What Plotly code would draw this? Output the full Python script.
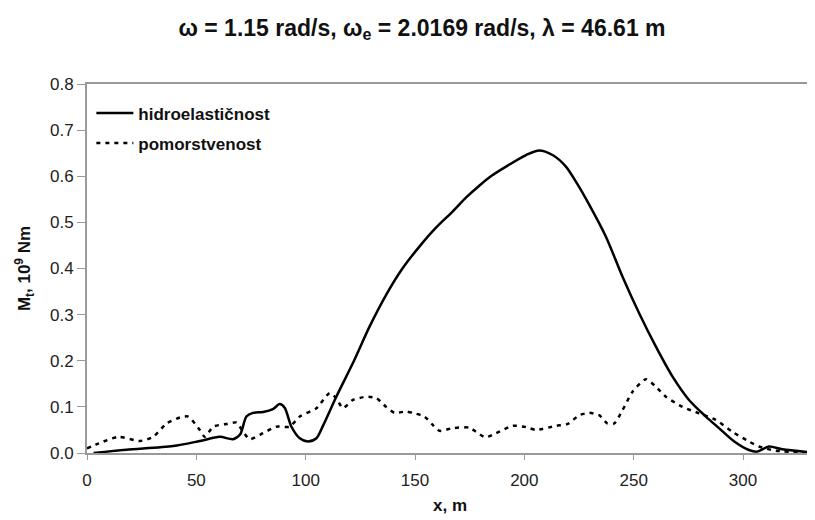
import plotly.graph_objects as go

# hidroelastičnost (solid)
x_hidro = [3, 18, 39.4, 51.6, 60.7, 66.8, 70, 72.9, 75.9, 80.5, 85, 88.1, 90.4, 93.5, 97.3, 101,
           104.9, 108, 114, 121.6, 129.2, 136.8, 144.4, 152.1, 159.7, 167.3, 173.4, 179.5, 185,
           191.6, 200.8, 206.8, 212.9, 219, 224, 229.7, 237.3, 244.9, 252.5, 260.1, 267.7,
           275.3, 283, 289, 296, 302.7, 306.5, 311.9, 318, 332]
y_hidro = [0.0, 0.007, 0.015, 0.026, 0.035, 0.030, 0.040, 0.079, 0.087, 0.089, 0.095, 0.106,
           0.098, 0.057, 0.032, 0.025, 0.032, 0.060, 0.122, 0.195, 0.274, 0.343, 0.401, 0.448,
           0.489, 0.524, 0.554, 0.580, 0.601, 0.621, 0.646, 0.656, 0.646, 0.621, 0.585, 0.538,
           0.469, 0.382, 0.303, 0.231, 0.166, 0.115, 0.079, 0.054, 0.025, 0.0065, 0.003, 0.014,
           0.008, 0.001]

# pomorstvenost (dotted)
x_pomor = [0, 5.5, 14.3, 24.2, 30.3, 36.4, 42.5, 46.3, 51.6, 53.9, 57.7, 63.8, 68.4, 71.4, 74.4,
           80.5, 86.6, 92.7, 97.3, 104.9, 111, 114, 117, 121.6, 127.7, 132.3, 136.8, 140.6, 146,
           149, 154.3, 158.1, 161.2, 167.3, 174.9, 177.9, 182.2, 187.1, 194.7, 200.8, 205.3,
           214.5, 219.8, 225.1, 229.7, 234.2, 238, 241.1, 244.9, 249.5, 255.6, 260.1, 264.7,
           272.3, 279.9, 287.5, 295.1, 302.7, 307.3, 314.9, 332]
y_pomor = [0.010, 0.021, 0.035, 0.026, 0.035, 0.064, 0.077, 0.079, 0.050, 0.035, 0.057, 0.063,
           0.066, 0.046, 0.030, 0.043, 0.057, 0.057, 0.079, 0.097, 0.130, 0.119, 0.097, 0.115,
           0.122, 0.119, 0.100, 0.087, 0.090, 0.087, 0.079, 0.061, 0.048, 0.054, 0.055, 0.046,
           0.034, 0.043, 0.059, 0.056, 0.050, 0.059, 0.063, 0.082, 0.087, 0.082, 0.064, 0.064,
           0.093, 0.133, 0.160, 0.144, 0.122, 0.100, 0.086, 0.072, 0.046, 0.025, 0.014, 0.005,
           0.001]

x_ticks = [0, 50, 100, 150, 200, 250, 300]
y_ticks = [0.0, 0.1, 0.2, 0.3, 0.4, 0.5, 0.6, 0.7, 0.8]

font_main = "Liberation Sans, Arial, sans-serif"

# page has an 8px body margin; figure is sized so the page matches 815x520
W, H = 807, 512

fig = go.Figure()
fig.add_trace(go.Scatter(x=x_hidro, y=y_hidro, mode="lines", name="<b>hidroelastičnost</b>",
                         legendgroup="a",
                         line=dict(color="black", width=2.5, shape="spline", smoothing=0.8)))
fig.add_trace(go.Scatter(x=x_pomor, y=y_pomor, mode="lines", name="<b>pomorstvenost</b>",
                         legendgroup="b",
                         line=dict(color="black", width=2.5, dash="4px,5px", shape="spline", smoothing=0.6)))

fig.update_layout(
    width=W, height=H,
    paper_bgcolor="white", plot_bgcolor="white",
    margin=dict(l=79, r=2, t=76, b=67),
    title=dict(text="<b>ω = 1.15 rad/s, ω<sub>e</sub> = 2.0169 rad/s, λ = 46.61 m</b>",
               x=414 / W, xanchor="center", y=1 - 19.5 / H, yanchor="middle",
               font=dict(family=font_main, size=23, color="#111")),
    font=dict(family=font_main, size=17, color="#222"),
    showlegend=True,
    legend=dict(x=0.006, y=0.969, xanchor="left", yanchor="top", bgcolor="rgba(0,0,0,0)",
                font=dict(family=font_main, size=17, color="#111"), itemwidth=37,
                tracegroupgap=5),
    xaxis=dict(range=[0, 332], tickvals=x_ticks, showgrid=False, zeroline=False,
               showline=True, linecolor="#999", linewidth=2, mirror=True,
               ticks="outside", ticklen=5, tickcolor="#999", tickwidth=1,
               ticklabelstandoff=6,
               tickfont=dict(size=17, color="#222"),
               title=dict(text="<b>x, m</b>", font=dict(size=17, color="#111"), standoff=10)),
    yaxis=dict(range=[0, 0.8], tickvals=y_ticks, tickformat=".1f", showgrid=False,
               zeroline=False, showline=True, linecolor="#999", linewidth=2,
               ticks="outside", ticklen=8, tickcolor="#999", tickwidth=1,
               tickfont=dict(size=17, color="#222"),
               title=dict(text="<b>M<sub>t</sub>, 10<sup>9</sup> Nm</b>", font=dict(size=17, color="#111"), standoff=15)),
)

fig.write_html("out.html")
